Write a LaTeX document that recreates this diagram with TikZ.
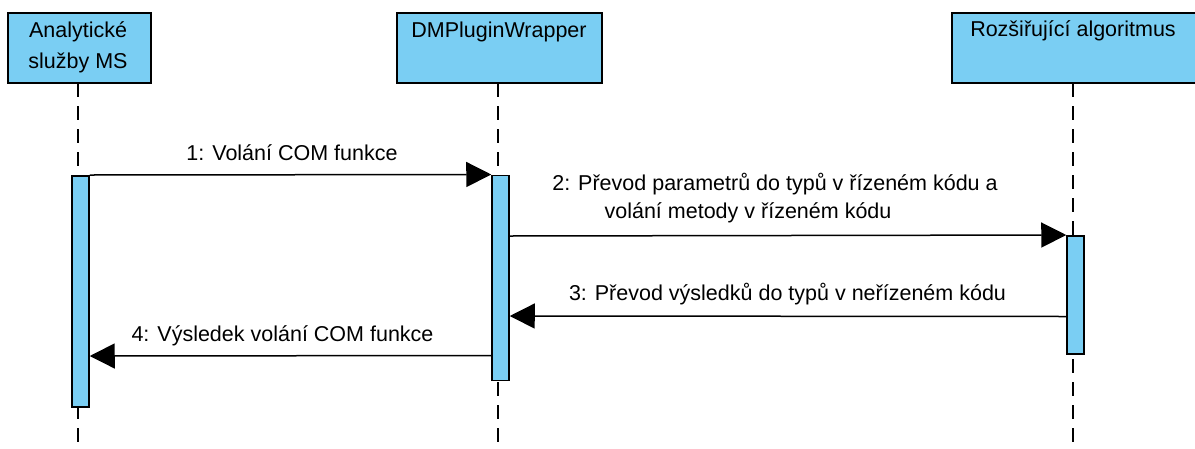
\documentclass[tikz,border=0pt]{standalone}
\usepackage{fontspec}
\setmainfont{Liberation Sans}
\usetikzlibrary{arrows.meta}
\definecolor{lblue}{RGB}{122,206,243}
\tikzset{
  objbox/.style={draw=black, line width=1.5pt, fill=lblue, inner sep=0pt},
  actbar/.style={draw=black, line width=1.5pt, fill=lblue, inner sep=0pt},
  life/.style={line width=2pt, dash pattern=on 14pt off 9pt},
  msg/.style={line width=1.5pt, -{Triangle[length=25pt,width=25pt]}},
  txt/.style={anchor=base, inner sep=0pt, font=\fontsize{21.5}{26}\selectfont}
}
\begin{document}
\begin{tikzpicture}[x=1pt,y=-1pt]
\useasboundingbox (0,0) rectangle (1195,448);
% object boxes
\node[objbox, minimum width=143pt, minimum height=70pt] (ams) at (79.5,48) {};
\node[objbox, minimum width=205pt, minimum height=70pt] (dmw) at (499.5,48) {};
\node[objbox, minimum width=244pt, minimum height=70pt] (alg) at (1074,48) {};
\node[txt] (amsA) at (78,37) {Analytické};
\node[txt] (amsB) at (78,68.5) {služby MS};
\node[txt] (dmwT) at (499,37) {DMPluginWrapper};
\node[txt] (algT) at (1073,36.5) {Rozšiřující algoritmus};
% lifelines
\coordinate (e1) at (78,448);
\coordinate (e2) at (498,448);
\coordinate (e3) at (1073,448);
\draw[life] (78,83) -- (e1);
\draw[life] (498,83) -- (e2);
\draw[life] (1073,83) -- (e3);
% activation bars
\node[actbar, anchor=north, minimum width=17pt, minimum height=231pt] (b1) at (80.5,175) {};
\node[actbar, anchor=north, minimum width=17pt, minimum height=205pt] (b2) at (500.5,174.5) {};
\node[actbar, anchor=north, minimum width=17pt, minimum height=118pt] (b3) at (1075.5,235) {};
% message end points on the bars
\coordinate (m2s) at ([yshift=-61.5pt]b2.north east);
\coordinate (m3s) at ([yshift=-81.5pt]b3.north west);
\coordinate (m3e) at ([yshift=-141.5pt]b2.north east);
\coordinate (m4s) at ([yshift=-181pt]b2.north west);
\coordinate (m4e) at ([yshift=-181pt]b1.north east);
% messages
\draw[msg] (b1.north east) -- (b2.north west);
\draw[msg] (m2s) -- (b3.north west);
\draw[msg] (m3s) -- (m3e);
\draw[msg] (m4s) -- (m4e);
% labels
\node[txt] (l1) at (292,160) {1: Volání COM funkce};
\node[txt] (l2a) at (775,190) {2: Převod parametrů do typů v řízeném kódu a};
\node[txt] (l2b) at (748,218) {volání metody v řízeném kódu};
\node[txt] (l3) at (787.5,300.5) {3: Převod výsledků do typů v neřízeném kódu};
\node[txt] (l4) at (282.5,341) {4: Výsledek volání COM funkce};
\end{tikzpicture}
\end{document}
